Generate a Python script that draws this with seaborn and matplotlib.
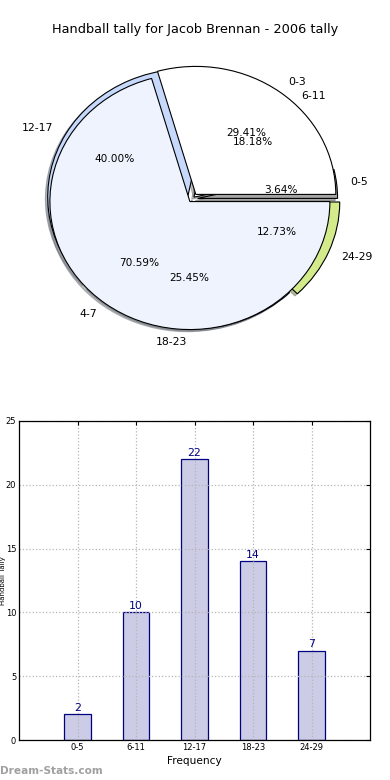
import matplotlib
matplotlib.use("Agg")
import numpy as np
import pandas as pd
import matplotlib.pyplot as plt
import seaborn as sns


# ------------------------------------------------------------
# data
# ------------------------------------------------------------
title = "Handball tally for Jacob Brennan - 2006 tally"

# pie that was left on the canvas (older bins)
old_bins = ["0-3", "4-7"]
old_counts = [5, 12]

# current tally, used by the second pie and the bars
bins = ["0-5", "6-11", "12-17", "18-23", "24-29"]
counts = [2, 10, 22, 14, 7]

x_label = "Frequency"
y_label = "Handball Tally"
y_ticks = [0, 5, 10, 15, 20, 25]

# ------------------------------------------------------------
# styles
# ------------------------------------------------------------
new_colors = ["#a4a4a4", "#ffffff", "#c6d9fd", "#b8cff0", "#d4eb8c"]
new_explode = [0.04, 0.02, 0.035, 0.015, 0.06]
old_colors = ["#ffffff", "#eef3fe"]
old_explode = [0.045, 0.025]

bar_face = "#ccccE6"
bar_edge = "#000080"

sns.set_style("white")
plt.rcParams["font.family"] = ["DejaVu Sans"]
plt.rcParams["text.color"] = "black"
plt.rcParams["axes.labelcolor"] = "black"
plt.rcParams["xtick.color"] = "black"
plt.rcParams["ytick.color"] = "black"

fig = plt.figure(figsize=(3.9, 7.8), dpi=100)

fig.text(0.5, 1 - 30 / 780, title, ha="center", va="center", fontsize=9.3,
         color="black")

# ------------------------------------------------------------
# pie(s)
# ------------------------------------------------------------
ax1 = fig.add_axes([17 / 390, 1 - 359 / 780, 350 / 390, 320 / 780])
wedge_kw = dict(edgecolor="black", linewidth=0.8)
shadow_kw = dict(ox=-0.012, oy=-0.012, shade=0.5)

_, t1, p1 = ax1.pie(counts, labels=bins, colors=new_colors, explode=new_explode,
                    autopct="%.2f%%", shadow=shadow_kw, startangle=0,
                    wedgeprops=wedge_kw)
_, t2, p2 = ax1.pie(old_counts, labels=old_bins, colors=old_colors,
                    explode=old_explode, autopct="%.2f%%", shadow=shadow_kw,
                    startangle=0, wedgeprops=wedge_kw)
for t in t1 + t2:
    t.set_fontsize(7.8)
    t.set_color("black")
for t in p1 + p2:
    t.set_fontsize(7.6)
    t.set_color("black")
ax1.set_aspect("auto")
ax1.set_xlim(-1.25, 1.25)
ax1.set_ylim(-1.25, 1.25)
ax1.axis("off")

# ------------------------------------------------------------
# bars
# ------------------------------------------------------------
ax2 = fig.add_axes([19 / 390, 40 / 780, 351 / 390, 319 / 780])
df = pd.DataFrame({"bin": bins, "count": counts})
sns.barplot(data=df, x="bin", y="count", ax=ax2, color=bar_face,
            edgecolor=bar_edge, linewidth=0.9, width=0.45, saturation=1)
ax2.bar_label(ax2.containers[0], color=bar_edge, fontsize=7.8, padding=1)

ax2.set_xlim(-1, 5)
ax2.set_ylim(0, 25)
ax2.set_yticks(y_ticks)
ax2.set_axisbelow(False)
ax2.grid(True, color="#b5b5b5", linestyle=":", linewidth=0.9)
ax2.tick_params(axis="both", direction="in", labelsize=6, length=3,
                top=True, right=True, pad=2)
for s in ax2.spines.values():
    s.set_visible(True)
    s.set_color("black")
    s.set_linewidth(0.9)
    s.set_zorder(4)
ax2.set_xlabel(x_label, fontsize=7.6, labelpad=3)
ax2.set_ylabel(y_label, fontsize=5)
ax2.yaxis.set_label_coords(-0.037, 0.5)

fig.text(0.0, 1 - 771 / 780, "Dream-Stats.com", ha="left", va="center",
         fontsize=7.6, fontweight="bold", color="#a0a0a0")

fig.savefig("out.png", dpi=100)
